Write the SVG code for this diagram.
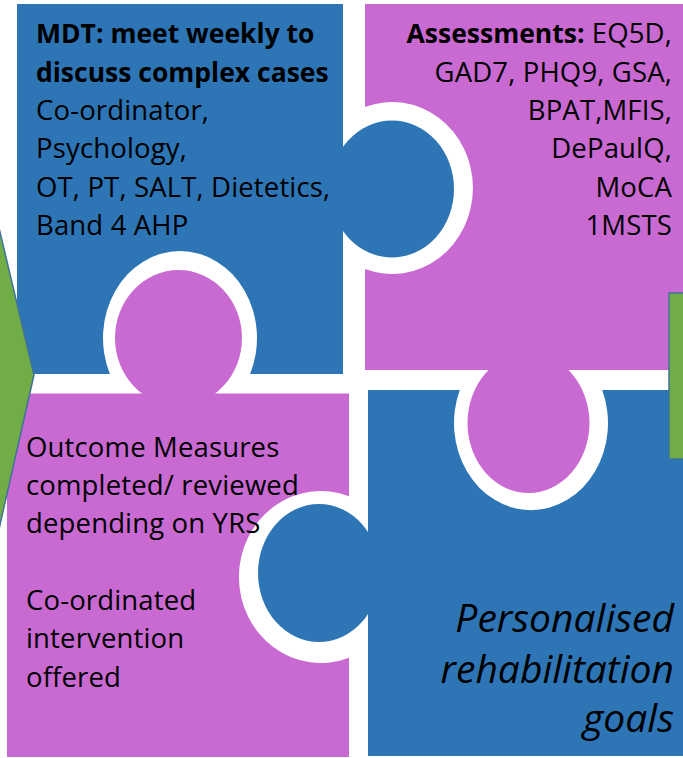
<svg xmlns="http://www.w3.org/2000/svg" width="683" height="758" viewBox="0 0 683 758">
<style>
.blue{fill:#2E75B6}
.purple{fill:#C96AD2}
.arrow{fill:#70AD47;stroke:#41719C;stroke-width:1.5}
text{font-family:"Open Sans",Lato,sans-serif;font-size:27.5px;letter-spacing:0.15px;fill:#000}
.b{font-weight:700;font-size:26.5px;letter-spacing:0}
.it{font-style:italic;font-size:39px;letter-spacing:0}
</style>
<rect width="683" height="758" fill="#fff"/>
<g id="mdt">
<path class="blue" d="M17,4 H343 V374 H250.1 A77 87 0 1 0 109.9 374 H17 Z"/>
<ellipse class="blue" cx="392" cy="189" rx="62" ry="68.5"/>
<text x="36" y="43" class="b">MDT: meet weekly to</text>
<text x="36" y="82" class="b">discuss complex cases</text>
<text x="36" y="120">Co-ordinator,</text>
<text x="36" y="158">Psychology,</text>
<text x="36" y="197">OT, PT, SALT, Dietetics,</text>
<text x="36" y="235">Band 4 AHP</text>
</g>
<g id="assessments">
<path class="purple" d="M365,4 H690 V370 H365 V269.1 A81 86 0 1 0 365 106.9 Z"/>
<ellipse class="purple" cx="528.5" cy="423" rx="61" ry="70"/>
<g text-anchor="end">
<text x="672" y="43"><tspan class="b">Assessments:</tspan> EQ5D,</text>
<text x="672" y="82">GAD7, PHQ9, GSA,</text>
<text x="672" y="120">BPAT,MFIS,</text>
<text x="672" y="158">DePaulQ,</text>
<text x="672" y="197">MoCA</text>
<text x="672" y="235">1MSTS</text>
</g>
</g>
<g id="goals">
<path class="blue" d="M368,390 H459.8 A77 87 0 1 0 602.2 390 H690 V756 H368 Z"/>
<ellipse class="blue" cx="319" cy="573" rx="61" ry="69"/>
<g text-anchor="end">
<text x="674" y="632" class="it">Personalised</text>
<text x="674" y="683" class="it">rehabilitation</text>
<text x="674" y="732" class="it">goals</text>
</g>
</g>
<g id="outcomes">
<path class="purple" d="M7,393.5 H349 V496.2 A82 86 0 1 0 349 657.8 V757 H7 Z"/>
<ellipse class="purple" cx="178.5" cy="338" rx="63.5" ry="68"/>
<text x="26" y="457">Outcome Measures</text>
<text x="26" y="495">completed/ reviewed</text>
<text x="26" y="533">depending on YRS</text>
<text x="26" y="610">Co-ordinated</text>
<text x="26" y="648">intervention</text>
<text x="26" y="687">offered</text>
</g>
<g id="connectors">
<polygon class="arrow" points="-20,148 34,375 -20,613"/>
<rect class="arrow" x="669" y="293" width="40" height="166"/>
</g>
</svg>
